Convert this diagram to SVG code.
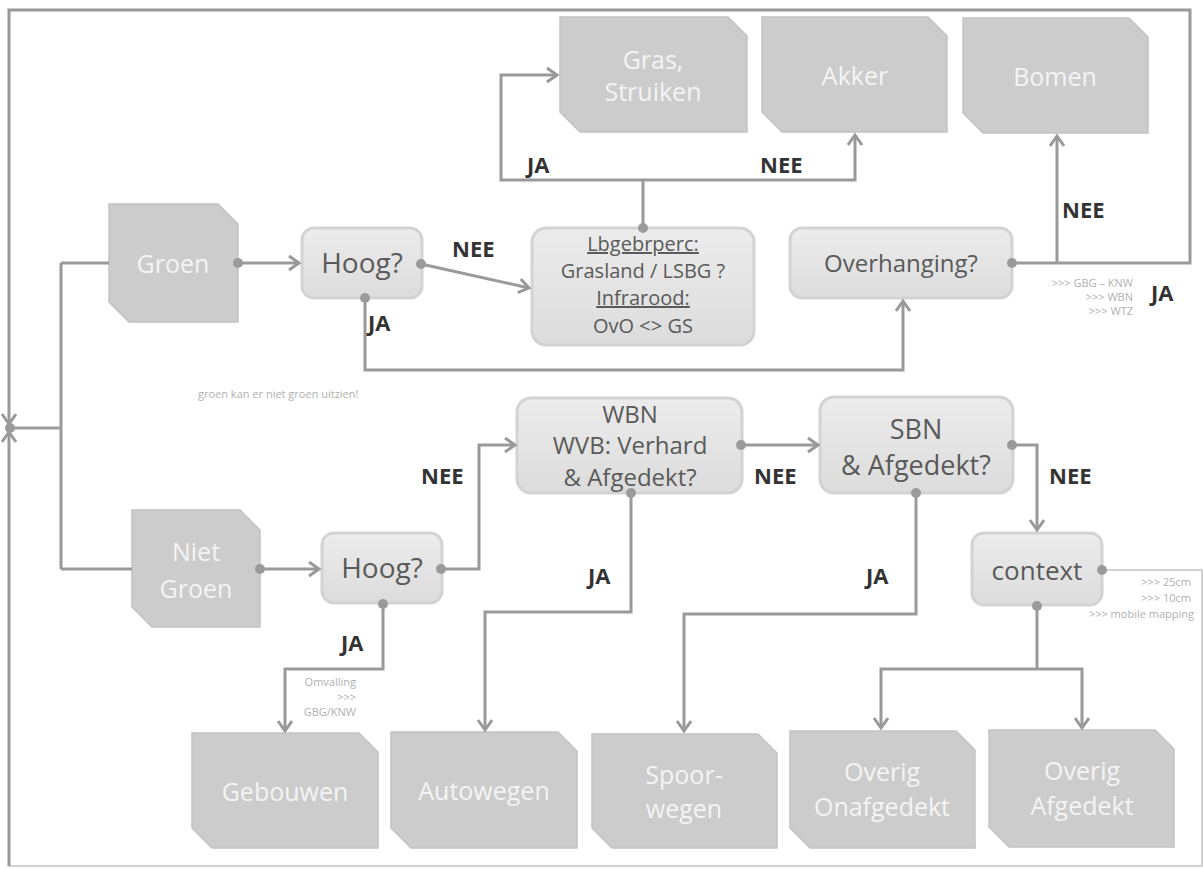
<svg xmlns="http://www.w3.org/2000/svg" width="1203" height="869" viewBox="0 0 1203 869">
<defs>
<linearGradient id="dg" x1="0" y1="0" x2="0" y2="1"><stop offset="0" stop-color="#ececec"/><stop offset="1" stop-color="#dcdcdc"/></linearGradient>
<marker id="ah" markerWidth="14" markerHeight="18" refX="11" refY="8" orient="auto" markerUnits="userSpaceOnUse"><path d="M1,1 L11,8 L1,15" fill="none" stroke="#999" stroke-width="3"/></marker>
<style>
.c{fill:none;stroke:#9a9a9a;stroke-width:3}
.t{fill:none;stroke:#c4c4c4;stroke-width:1.5}
.d{fill:#9a9a9a}
.cls{fill:#cccccc;stroke:#c2c2c2;stroke-width:1.5}
.dec{fill:url(#dg);stroke:#d3d3d3;stroke-width:3}
.ct{font-family:"Open Sans","Liberation Sans",sans-serif;font-size:25px;fill:#f4f4f4;text-anchor:middle}
.dt{font-family:"Open Sans","Liberation Sans",sans-serif;font-size:24px;fill:#5a5a5a;text-anchor:middle}
.big{font-size:27px}
.hg{font-size:28px}
.ctx{font-size:26px}
.lt{font-family:"Open Sans","Liberation Sans",sans-serif;font-size:20px;fill:#5a5a5a;text-anchor:middle}
.lb{font-family:"Open Sans","Liberation Sans",sans-serif;font-size:22px;font-weight:bold;fill:#333}
.sm{font-family:"Open Sans","Liberation Sans",sans-serif;font-size:11px;fill:#b0b0b0}
</style>
</defs>
<rect width="1203" height="869" fill="#fff"/>

<g id="groen"><path class="cls" d="M109,204 H218 L238,224 V322 H129 L109,302 Z"/><text class="ct" x="173" y="273">Groen</text></g>
<g id="niet-groen"><path class="cls" d="M132,510 H240 L260,530 V627 H152 L132,607 Z"/><text class="ct" x="196" y="561">Niet</text><text class="ct" x="196" y="598">Groen</text></g>
<g id="gras"><path class="cls" d="M560,17 H728 L747,36 V132 H580 L560,112 Z"/><text class="ct" x="653" y="69">Gras,</text><text class="ct" x="653" y="101">Struiken</text></g>
<g id="akker"><path class="cls" d="M762,17 H928 L947,36 V132 H782 L762,112 Z"/><text class="ct" x="855" y="85">Akker</text></g>
<g id="bomen"><path class="cls" d="M963,18 H1129 L1148,37 V133 H983 L963,113 Z"/><text class="ct" x="1055" y="86">Bomen</text></g>
<g id="gebouwen"><path class="cls" d="M192,733 H359 L378,752 V848 H212 L192,828 Z"/><text class="ct" x="285" y="801">Gebouwen</text></g>
<g id="autowegen"><path class="cls" d="M391,732 H558 L577,751 V848 H411 L391,828 Z"/><text class="ct" x="484" y="800">Autowegen</text></g>
<g id="spoorwegen"><path class="cls" d="M592,734 H758 L777,753 V848 H612 L592,828 Z"/><text class="ct" x="684" y="784">Spoor-</text><text class="ct" x="684" y="818">wegen</text></g>
<g id="overig-onafgedekt"><path class="cls" d="M790,731 H956 L975,750 V848 H810 L790,828 Z"/><text class="ct" x="882" y="781">Overig</text><text class="ct" x="882" y="816">Onafgedekt</text></g>
<g id="overig-afgedekt"><path class="cls" d="M989,730 H1155 L1174,749 V847 H1009 L989,827 Z"/><text class="ct" x="1082" y="780">Overig</text><text class="ct" x="1082" y="815">Afgedekt</text></g>

<g id="hoog1"><rect class="dec" x="302" y="228" width="120" height="70" rx="12"/><text class="dt hg" x="362" y="273">Hoog?</text></g>
<g id="lbgebr"><rect class="dec" x="532" y="228" width="222" height="117" rx="14"/>
<text class="lt" x="643" y="251" text-decoration="underline">Lbgebrperc:</text>
<text class="lt" x="643" y="278">Grasland / LSBG ?</text>
<text class="lt" x="643" y="305" text-decoration="underline">Infrarood:</text>
<text class="lt" x="643" y="333">OvO &lt;&gt; GS</text></g>
<g id="overhanging"><rect class="dec" x="790" y="228" width="222" height="70" rx="12"/><text class="dt" x="901" y="272">Overhanging?</text></g>
<g id="hoog2"><rect class="dec" x="322" y="533" width="120" height="70" rx="12"/><text class="dt hg" x="382" y="578">Hoog?</text></g>
<g id="wbn"><rect class="dec" x="517" y="398" width="225" height="95" rx="14"/>
<text class="dt" x="630" y="423">WBN</text><text class="dt" x="630" y="454">WVB: Verhard</text><text class="dt" x="630" y="486">&amp; Afgedekt?</text></g>
<g id="sbn"><rect class="dec" x="820" y="397" width="193" height="96" rx="14"/>
<text class="dt big" x="916" y="439">SBN</text><text class="dt big" x="916" y="475">&amp; Afgedekt?</text></g>
<g id="context"><rect class="dec" x="972" y="533" width="130" height="72" rx="12"/><text class="dt ctx" x="1037" y="580">context</text></g>

<g id="connectors">
<path class="c" d="M1012,263 H1190 V10 H9 V424" marker-end="url(#ah)"/>
<path class="t" d="M1102,570 H1202 V866 H9"/>
<path class="c" d="M9,866 V432" marker-end="url(#ah)"/>
<circle class="d" cx="10" cy="428" r="5"/>
<path class="c" d="M10,428 H61 M61,263 V569 M61,263 H109 M61,569 H132"/>
<path class="c" d="M238,263 H299" marker-end="url(#ah)"/>
<circle class="d" cx="238" cy="263" r="5"/>
<path class="c" d="M421,264 L529,288" marker-end="url(#ah)"/>
<circle class="d" cx="421" cy="264" r="5"/>
<path class="c" d="M365,298 V370 H903 V301" marker-end="url(#ah)"/>
<circle class="d" cx="365" cy="298" r="5"/>
<path class="c" d="M643,228 V180 H501 V75 H557" marker-end="url(#ah)"/>
<path class="c" d="M643,180 H855 V135" marker-end="url(#ah)"/>
<circle class="d" cx="643" cy="228" r="5"/>
<path class="c" d="M1057,263 V136" marker-end="url(#ah)"/>
<circle class="d" cx="1012" cy="263" r="5"/>
<path class="c" d="M260,569 H319" marker-end="url(#ah)"/>
<circle class="d" cx="260" cy="569" r="5"/>
<path class="c" d="M441,569 H479 V445 H515" marker-end="url(#ah)"/>
<circle class="d" cx="441" cy="569" r="5"/>
<path class="c" d="M383,604 V669 H285 V731" marker-end="url(#ah)"/>
<circle class="d" cx="383" cy="604" r="5"/>
<path class="c" d="M741,445 H818" marker-end="url(#ah)"/>
<circle class="d" cx="741" cy="445" r="5"/>
<path class="c" d="M631,493 V612 H485 V730" marker-end="url(#ah)"/>
<circle class="d" cx="631" cy="493" r="5"/>
<path class="c" d="M1012,445 H1037 V530" marker-end="url(#ah)"/>
<circle class="d" cx="1012" cy="445" r="5"/>
<path class="c" d="M916,493 V614 H684 V731" marker-end="url(#ah)"/>
<circle class="d" cx="916" cy="493" r="5"/>
<path class="c" d="M1037,606 V669"/>
<path class="c" d="M1037,669 H881 V728" marker-end="url(#ah)"/>
<path class="c" d="M1037,669 H1082 V728" marker-end="url(#ah)"/>
<circle class="d" cx="1037" cy="606" r="5"/>
<circle class="d" cx="1102" cy="570" r="5"/>
</g>

<g id="labels">
<text class="lb" x="452" y="257">NEE</text>
<text class="lb" x="368" y="331">JA</text>
<text class="lb" x="527" y="173">JA</text>
<text class="lb" x="760" y="173">NEE</text>
<text class="lb" x="1062" y="218">NEE</text>
<text class="lb" x="1151" y="301">JA</text>
<text class="lb" x="421" y="484">NEE</text>
<text class="lb" x="754" y="484">NEE</text>
<text class="lb" x="1049" y="484">NEE</text>
<text class="lb" x="341" y="651">JA</text>
<text class="lb" x="588" y="584">JA</text>
<text class="lb" x="866" y="584">JA</text>
<text class="sm" x="1133" y="287" text-anchor="end">&gt;&gt;&gt; GBG – KNW</text>
<text class="sm" x="1133" y="301" text-anchor="end">&gt;&gt;&gt; WBN</text>
<text class="sm" x="1133" y="315" text-anchor="end">&gt;&gt;&gt; WTZ</text>
<text class="sm" x="198" y="398">groen kan er niet groen uitzien!</text>
<text class="sm" x="1191" y="586" text-anchor="end">&gt;&gt;&gt; 25cm</text>
<text class="sm" x="1191" y="602" text-anchor="end">&gt;&gt;&gt; 10cm</text>
<text class="sm" x="1194" y="618" text-anchor="end">&gt;&gt;&gt; mobile mapping</text>
<text class="sm" x="356" y="686" text-anchor="end">Omvalling</text>
<text class="sm" x="356" y="701" text-anchor="end">&gt;&gt;&gt;</text>
<text class="sm" x="356" y="716" text-anchor="end">GBG/KNW</text>
</g>
</svg>
